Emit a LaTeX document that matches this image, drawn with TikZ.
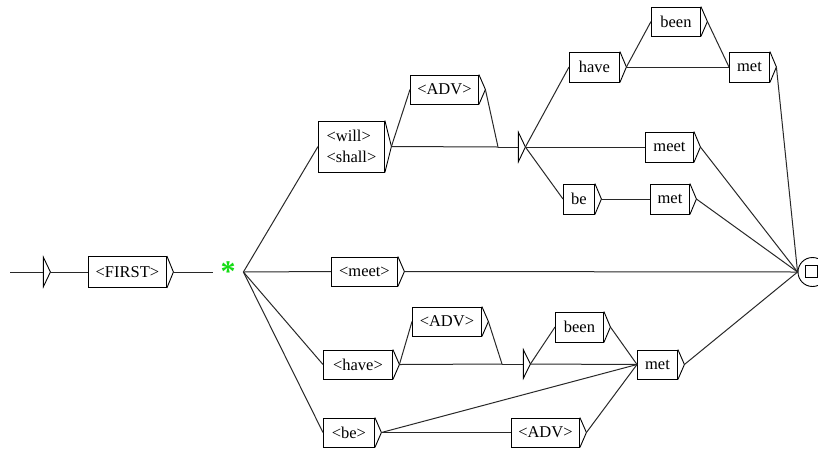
\documentclass[tikz,border=0pt]{standalone}
\usepackage{fontspec}
\setmainfont{Liberation Serif}
\usetikzlibrary{calc}
\definecolor{grfline}{RGB}{40,40,40}
\definecolor{grfgreen}{RGB}{20,220,20}
\tikzset{
  %% ---- boxes ----
  ubox/.style   = {rectangle, draw=black, line width=0.9pt, anchor=west,
                   minimum width=#1, minimum height=29pt, inner sep=0pt,
                   align=left, font=\fontsize{16.5}{21}\selectfont},
  ubox/.default = 50pt,
  epsbox/.style = {rectangle, anchor=west, minimum width=#1,
                   minimum height=29pt, inner sep=0pt},
  epsbox/.default = 27pt,
  finalstate/.style = {circle, draw=black, line width=0.9pt,
                   minimum size=29pt, inner sep=0pt},
  %% ---- lines ----
  tri/.style    = {draw=black, line width=0.9pt, line join=miter},
  trans/.style  = {draw=grfline, line width=1pt},
}
\begin{document}
\begin{tikzpicture}[x=1pt, y=-1pt]
\useasboundingbox (0,0) rectangle (818,448);
% initial part
\coordinate (entry) at (10,272);
\node[epsbox=7pt] (start) at (43,272) {};
\node[ubox=78pt, minimum height=31pt] (first) at (88,272) {<FIRST>};
\node[epsbox=30pt, text=grfgreen, font=\fontsize{30}{30}\bfseries] (star) at (213,272) {\raisebox{-2pt}{*}};
% future branch
\node[ubox=66pt, minimum height=51pt] (will) at (318,146.5) {<will>\\<shall>};
\node[ubox=68pt] (advA) at (410,89.5) {<ADV>};
\node[epsbox=27pt] (epsA) at (498,147) {};
\node[ubox=50pt, minimum height=30pt] (haveA) at (569,67) {have};
\node[ubox=49pt] (beenA) at (651,21.5) {been};
\node[ubox=40pt, minimum height=30pt] (metA) at (729,67) {met};
\node[ubox=48pt, minimum height=30pt] (meetA) at (645,147) {meet};
\node[ubox=31pt, minimum height=30pt] (beA) at (563,199) {be};
\node[ubox=39pt, minimum height=30pt] (metB) at (650,199) {met};
% present branch
\node[ubox=66pt] (meetN) at (331,271.5) {<meet>};
% perfect and passive branches
\node[ubox=69pt] (haveN) at (323,364.5) {<have>};
\node[ubox=69pt] (advB) at (412,321.5) {<ADV>};
\node[epsbox=28pt, minimum height=28pt] (epsB) at (502,364) {};
\node[ubox=48pt, minimum height=30pt] (beenB) at (555,327) {been};
\node[ubox=40pt] (metC) at (637,364.5) {met};
\node[ubox=51pt] (beN) at (323,432.5) {<be>};
\node[ubox=68pt] (advC) at (511,432.5) {<ADV>};
% final state
\node[finalstate] (final) at (812.5,272) {};
\node[draw=black, line width=0.9pt, minimum size=12pt, inner sep=0pt] (finalbox) at (811,271.5) {};

% box outputs
\foreach \n in {first, will, advA, haveA, beenA, metA, meetA, beA, metB,
                meetN, haveN, advB, beenB, metC, beN, advC}
  \draw[tri] (\n.north east) -- ([xshift=6.5pt]\n.east) coordinate (\n-o) -- (\n.south east);
\foreach \n in {start, epsA, epsB} {
  \draw[trans] (\n.west) -- ([xshift=-7pt]\n.east);
  \draw[tri] ([xshift=-7pt]\n.north east) -- (\n.east) -- ([xshift=-7pt]\n.south east) -- cycle;
}

% transitions
\draw[trans] (entry) -- (start.west);
\draw[trans] (start.east) -- (first.west);
\draw[trans] (first-o) -- (star.west);
\foreach \t in {will, meetN, haveN, beN}
  \draw[trans] (star.east) -- (\t.west);
\draw[trans] (will-o) -- (advA.west);
\draw[trans] (will-o) -- (epsA.west);
\draw[trans] (advA-o) -- (epsA.west);
\foreach \t in {haveA, meetA, beA}
  \draw[trans] (epsA.east) -- (\t.west);
\draw[trans] (haveA-o) -- (beenA.west);
\draw[trans] (haveA-o) -- (metA.west);
\draw[trans] (beenA-o) -- (metA.west);
\draw[trans] (beA-o) -- (metB.west);
\draw[trans] (haveN-o) -- (advB.west);
\draw[trans] (haveN-o) -- (epsB.west);
\draw[trans] (advB-o) -- (epsB.west);
\draw[trans] (epsB.east) -- (beenB.west);
\draw[trans] (epsB.east) -- (metC.west);
\draw[trans] (beenB-o) -- (metC.west);
\draw[trans] (beN-o) -- (metC.west);
\draw[trans] (beN-o) -- (advC.west);
\draw[trans] (advC-o) -- (metC.west);
\foreach \s in {metA, meetA, metB, meetN, metC}
  \draw[trans] (\s-o) -- (final.west);
\end{tikzpicture}
\end{document}
